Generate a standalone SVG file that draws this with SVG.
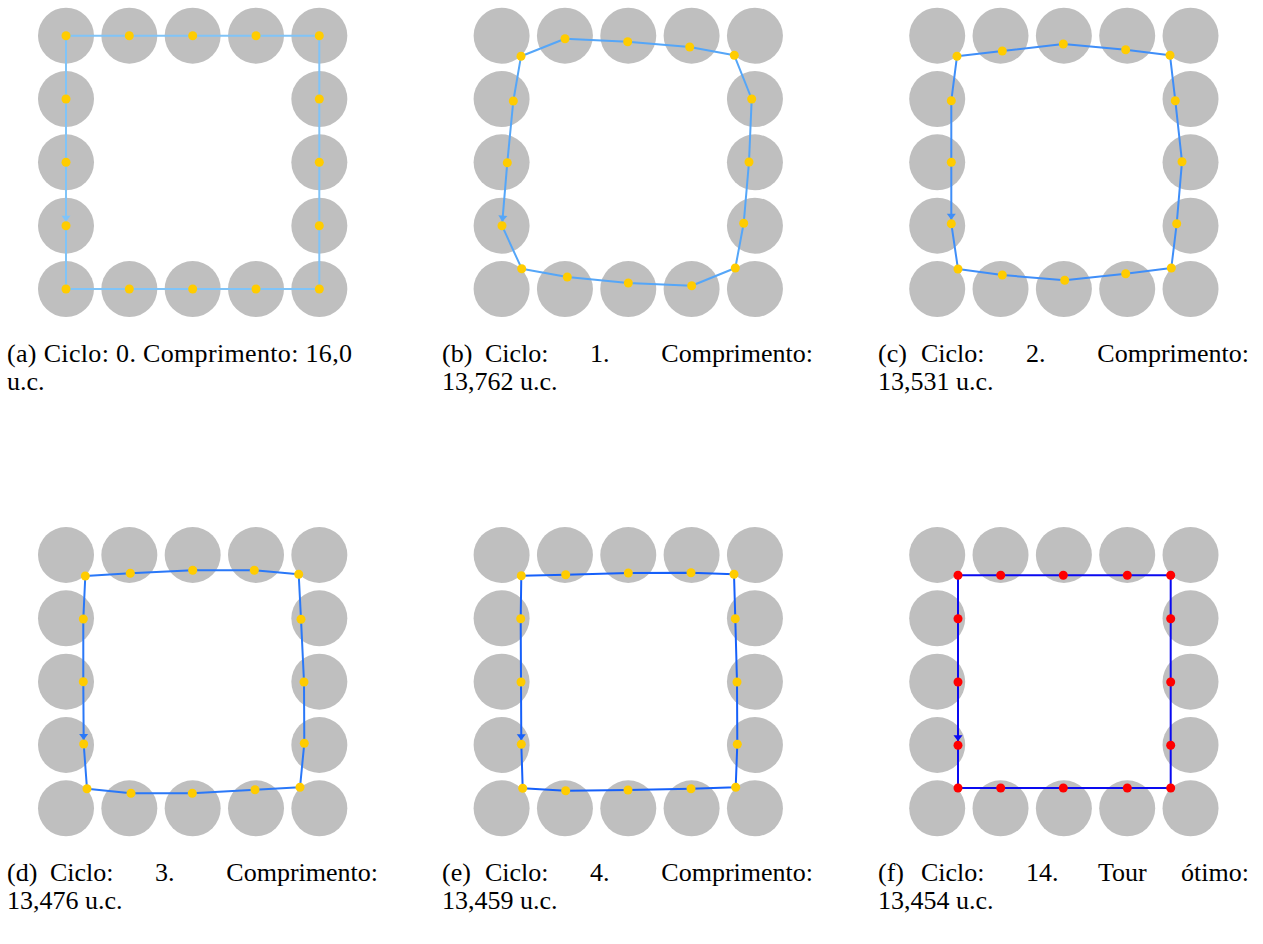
<svg xmlns="http://www.w3.org/2000/svg" xmlns:xlink="http://www.w3.org/1999/xlink" width="1263" height="944" viewBox="0 0 1263 944">
<style>
.bg{fill:#bfbfbf}
.tour{fill:none;stroke-width:2;stroke-linejoin:round}
.yd{fill:#ffcc00}
.rd{fill:#ff0000}
.cap{font-family:"Liberation Serif","Times New Roman",serif;font-size:26px;fill:#000}
.ca{stroke:#80c4f8}.cb{stroke:#55a6f8}.cc{stroke:#3f8ef8}.cd{stroke:#2a78f8}.ce{stroke:#1660fa}.cf{stroke:#0a0af0}
</style>
<defs>
<g id="ring" class="bg">
<circle cx="0" cy="0" r="28"/><circle cx="63.33" cy="0" r="28"/><circle cx="126.67" cy="0" r="28"/><circle cx="190" cy="0" r="28"/><circle cx="253.33" cy="0" r="28"/>
<circle cx="0" cy="63.33" r="28"/><circle cx="253.33" cy="63.33" r="28"/>
<circle cx="0" cy="126.67" r="28"/><circle cx="253.33" cy="126.67" r="28"/>
<circle cx="0" cy="190" r="28"/><circle cx="253.33" cy="190" r="28"/>
<circle cx="0" cy="253.33" r="28"/><circle cx="63.33" cy="253.33" r="28"/><circle cx="126.67" cy="253.33" r="28"/><circle cx="190" cy="253.33" r="28"/><circle cx="253.33" cy="253.33" r="28"/>
</g>
<marker id="ma" markerUnits="userSpaceOnUse" markerWidth="12" markerHeight="10" refX="10" refY="4.5" orient="auto" overflow="visible"><path d="M0,0 L6,4.5 L0,9 z" fill="#80c4f8"/></marker>
<marker id="mb" markerUnits="userSpaceOnUse" markerWidth="12" markerHeight="10" refX="10" refY="4.5" orient="auto" overflow="visible"><path d="M0,0 L6,4.5 L0,9 z" fill="#55a6f8"/></marker>
<marker id="mc" markerUnits="userSpaceOnUse" markerWidth="12" markerHeight="10" refX="10" refY="4.5" orient="auto" overflow="visible"><path d="M0,0 L6,4.5 L0,9 z" fill="#3f8ef8"/></marker>
<marker id="md" markerUnits="userSpaceOnUse" markerWidth="12" markerHeight="10" refX="10" refY="4.5" orient="auto" overflow="visible"><path d="M0,0 L6,4.5 L0,9 z" fill="#2a78f8"/></marker>
<marker id="me" markerUnits="userSpaceOnUse" markerWidth="12" markerHeight="10" refX="10" refY="4.5" orient="auto" overflow="visible"><path d="M0,0 L6,4.5 L0,9 z" fill="#1660fa"/></marker>
<marker id="mf" markerUnits="userSpaceOnUse" markerWidth="12" markerHeight="10" refX="10" refY="4.5" orient="auto" overflow="visible"><path d="M0,0 L6,4.5 L0,9 z" fill="#0a0af0"/></marker>
</defs>
<rect width="1263" height="944" fill="#ffffff"/>

<g id="panel-a">
<use xlink:href="#ring" href="#ring" x="66" y="35.7"/>
<g id="tour-a" class="connectors"><polyline class="tour ca" marker-end="url(#ma)" points="66,225.7 66,289 129.3,289 192.7,289 256,289 319.3,289 319.3,225.7 319.3,162.3 319.3,99 319.3,35.7 256,35.7 192.7,35.7 129.3,35.7 66,35.7 66,99 66,162.3 66,225.7"/></g>
<g id="nodes-a" class="yd">
<circle cx="66" cy="35.7" r="4.5"/><circle cx="129.3" cy="35.7" r="4.5"/><circle cx="192.7" cy="35.7" r="4.5"/><circle cx="256" cy="35.7" r="4.5"/><circle cx="319.3" cy="35.7" r="4.5"/>
<circle cx="66" cy="99" r="4.5"/><circle cx="319.3" cy="99" r="4.5"/><circle cx="66" cy="162.3" r="4.5"/><circle cx="319.3" cy="162.3" r="4.5"/><circle cx="66" cy="225.7" r="4.5"/><circle cx="319.3" cy="225.7" r="4.5"/>
<circle cx="66" cy="289" r="4.5"/><circle cx="129.3" cy="289" r="4.5"/><circle cx="192.7" cy="289" r="4.5"/><circle cx="256" cy="289" r="4.5"/><circle cx="319.3" cy="289" r="4.5"/>
</g>
<text class="cap" x="7" y="362" textLength="345" lengthAdjust="spacing">(a) Ciclo: 0. Comprimento: 16,0</text>
<text class="cap" x="7" y="390">u.c.</text>
</g>

<g id="panel-b">
<use xlink:href="#ring" href="#ring" x="501.6" y="35.7"/>
<g id="tour-b" class="connectors"><polyline class="tour cb" marker-end="url(#mb)" points="502,225.7 521.7,268.7 567.3,277 628.3,283 691.7,285.7 735.3,268 743.7,223.3 749,162 751.7,99 734.3,55.3 689.7,47 627.7,41.7 565,38.7 521,56.3 513.3,101 507.3,162.7 502,225.7"/></g>
<g id="nodes-b" class="yd">
<circle cx="502" cy="225.7" r="4.5"/><circle cx="521.7" cy="268.7" r="4.5"/><circle cx="567.3" cy="277" r="4.5"/><circle cx="628.3" cy="283" r="4.5"/><circle cx="691.7" cy="285.7" r="4.5"/><circle cx="735.3" cy="268" r="4.5"/><circle cx="743.7" cy="223.3" r="4.5"/><circle cx="749" cy="162" r="4.5"/><circle cx="751.7" cy="99" r="4.5"/><circle cx="734.3" cy="55.3" r="4.5"/><circle cx="689.7" cy="47" r="4.5"/><circle cx="627.7" cy="41.7" r="4.5"/><circle cx="565" cy="38.7" r="4.5"/><circle cx="521" cy="56.3" r="4.5"/><circle cx="513.3" cy="101" r="4.5"/><circle cx="507.3" cy="162.7" r="4.5"/>
</g>
<text class="cap" x="442" y="362">(b)</text><text class="cap" x="485" y="362">Ciclo:</text><text class="cap" x="590" y="362">1.</text><text class="cap" x="813" y="362" text-anchor="end">Comprimento:</text>
<text class="cap" x="442" y="390">13,762 u.c.</text>
</g>

<g id="panel-c">
<use xlink:href="#ring" href="#ring" x="937.2" y="35.7"/>
<g id="tour-c" class="connectors"><polyline class="tour cc" marker-end="url(#mc)" points="951.3,223.7 958,269 1002.3,275 1064.7,280.3 1125.7,273.7 1171.3,268 1176.7,223.7 1182,161.7 1175.3,100.7 1170,55.3 1125.7,49.7 1063.3,44 1002.3,51 957,56.3 951.3,100.7 951.3,162.3 951.3,223.7"/></g>
<g id="nodes-c" class="yd">
<circle cx="951.3" cy="223.7" r="4.5"/><circle cx="958" cy="269" r="4.5"/><circle cx="1002.3" cy="275" r="4.5"/><circle cx="1064.7" cy="280.3" r="4.5"/><circle cx="1125.7" cy="273.7" r="4.5"/><circle cx="1171.3" cy="268" r="4.5"/><circle cx="1176.7" cy="223.7" r="4.5"/><circle cx="1182" cy="161.7" r="4.5"/><circle cx="1175.3" cy="100.7" r="4.5"/><circle cx="1170" cy="55.3" r="4.5"/><circle cx="1125.7" cy="49.7" r="4.5"/><circle cx="1063.3" cy="44" r="4.5"/><circle cx="1002.3" cy="51" r="4.5"/><circle cx="957" cy="56.3" r="4.5"/><circle cx="951.3" cy="100.7" r="4.5"/><circle cx="951.3" cy="162.3" r="4.5"/>
</g>
<text class="cap" x="878" y="362">(c)</text><text class="cap" x="921" y="362">Ciclo:</text><text class="cap" x="1026" y="362">2.</text><text class="cap" x="1249" y="362" text-anchor="end">Comprimento:</text>
<text class="cap" x="878" y="390">13,531 u.c.</text>
</g>

<g id="panel-d">
<use xlink:href="#ring" href="#ring" x="66" y="555"/>
<g id="tour-d" class="connectors"><polyline class="tour cd" marker-end="url(#md)" points="83.7,744 87,788.7 131,793.3 192.3,793.3 255,789.7 300,787.3 304.3,743.3 304,682 301,619.3 298.7,574.3 254.3,570.3 192.7,570.3 130.3,573.3 85.3,576 83.3,619 83.3,681.7 83.7,744"/></g>
<g id="nodes-d" class="yd">
<circle cx="83.7" cy="744" r="4.5"/><circle cx="87" cy="788.7" r="4.5"/><circle cx="131" cy="793.3" r="4.5"/><circle cx="192.3" cy="793.3" r="4.5"/><circle cx="255" cy="789.7" r="4.5"/><circle cx="300" cy="787.3" r="4.5"/><circle cx="304.3" cy="743.3" r="4.5"/><circle cx="304" cy="682" r="4.5"/><circle cx="301" cy="619.3" r="4.5"/><circle cx="298.7" cy="574.3" r="4.5"/><circle cx="254.3" cy="570.3" r="4.5"/><circle cx="192.7" cy="570.3" r="4.5"/><circle cx="130.3" cy="573.3" r="4.5"/><circle cx="85.3" cy="576" r="4.5"/><circle cx="83.3" cy="619" r="4.5"/><circle cx="83.3" cy="681.7" r="4.5"/>
</g>
<text class="cap" x="7" y="881">(d)</text><text class="cap" x="50" y="881">Ciclo:</text><text class="cap" x="155" y="881">3.</text><text class="cap" x="378" y="881" text-anchor="end">Comprimento:</text>
<text class="cap" x="7" y="909">13,476 u.c.</text>
</g>

<g id="panel-e">
<use xlink:href="#ring" href="#ring" x="501.6" y="555"/>
<g id="tour-e" class="connectors"><polyline class="tour ce" marker-end="url(#me)" points="521.3,744.3 522.7,788.3 565.7,790.7 628,790 691,788.7 735.7,787.3 737.3,744.3 737,682 735.3,618.7 734,574.3 691,572.7 628.3,573 565.7,574.7 521.3,575.7 520.7,618.7 521,682 521.3,744.3"/></g>
<g id="nodes-e" class="yd">
<circle cx="521.3" cy="744.3" r="4.5"/><circle cx="522.7" cy="788.3" r="4.5"/><circle cx="565.7" cy="790.7" r="4.5"/><circle cx="628" cy="790" r="4.5"/><circle cx="691" cy="788.7" r="4.5"/><circle cx="735.7" cy="787.3" r="4.5"/><circle cx="737.3" cy="744.3" r="4.5"/><circle cx="737" cy="682" r="4.5"/><circle cx="735.3" cy="618.7" r="4.5"/><circle cx="734" cy="574.3" r="4.5"/><circle cx="691" cy="572.7" r="4.5"/><circle cx="628.3" cy="573" r="4.5"/><circle cx="565.7" cy="574.7" r="4.5"/><circle cx="521.3" cy="575.7" r="4.5"/><circle cx="520.7" cy="618.7" r="4.5"/><circle cx="521" cy="682" r="4.5"/>
</g>
<text class="cap" x="442" y="881">(e)</text><text class="cap" x="485" y="881">Ciclo:</text><text class="cap" x="590" y="881">4.</text><text class="cap" x="813" y="881" text-anchor="end">Comprimento:</text>
<text class="cap" x="442" y="909">13,459 u.c.</text>
</g>

<g id="panel-f">
<use xlink:href="#ring" href="#ring" x="937.2" y="555"/>
<g id="tour-f" class="connectors"><polyline class="tour cf" stroke-width="2.3" marker-end="url(#mf)" points="958,745.3 958,788 1000.7,788 1063.3,788 1127.3,788 1170.7,788 1170.7,745.3 1170.7,682 1170.7,618.7 1170.7,575.3 1127.3,575.3 1063.3,575.3 1000.7,575.3 958,575.3 958,618.7 958,682 958,745.3"/></g>
<g id="nodes-f" class="rd">
<circle cx="958" cy="745.3" r="4.5"/><circle cx="958" cy="788" r="4.5"/><circle cx="1000.7" cy="788" r="4.5"/><circle cx="1063.3" cy="788" r="4.5"/><circle cx="1127.3" cy="788" r="4.5"/><circle cx="1170.7" cy="788" r="4.5"/><circle cx="1170.7" cy="745.3" r="4.5"/><circle cx="1170.7" cy="682" r="4.5"/><circle cx="1170.7" cy="618.7" r="4.5"/><circle cx="1170.7" cy="575.3" r="4.5"/><circle cx="1127.3" cy="575.3" r="4.5"/><circle cx="1063.3" cy="575.3" r="4.5"/><circle cx="1000.7" cy="575.3" r="4.5"/><circle cx="958" cy="575.3" r="4.5"/><circle cx="958" cy="618.7" r="4.5"/><circle cx="958" cy="682" r="4.5"/>
</g>
<text class="cap" x="878" y="881">(f)</text><text class="cap" x="921" y="881">Ciclo:</text><text class="cap" x="1026" y="881">14.</text><text class="cap" x="1098" y="881">Tour</text><text class="cap" x="1249" y="881" text-anchor="end">ótimo:</text>
<text class="cap" x="878" y="909">13,454 u.c.</text>
</g>
</svg>
